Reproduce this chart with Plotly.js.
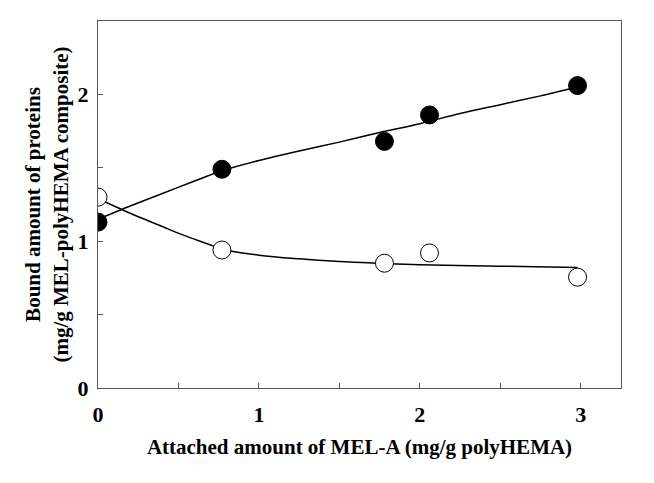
<!DOCTYPE html>
<html>
<head>
<meta charset="utf-8">
<script src="https://cdn.plot.ly/plotly-3.0.1.min.js"></script>
<style>html,body{margin:0;padding:0;background:#fff;}#chart{width:654px;height:483px;}</style>
</head>
<body>
<div id="chart"></div>
<script>
// Measured points
const filledX = [0, 0.77, 1.78, 2.06, 2.98];
const filledY = [1.13, 1.49, 1.68, 1.86, 2.06];
const openX = [0, 0.77, 1.78, 2.06, 2.98];
const openY = [1.30, 0.94, 0.85, 0.92, 0.755];
// Fitted curves
const filledFitX = [0, 0.2, 0.4, 0.6, 0.77, 1.0, 1.25, 1.5, 1.75, 2.0, 2.25, 2.5, 2.75, 2.98];
const filledFitY = [1.15, 1.24, 1.325, 1.41, 1.48, 1.55, 1.615, 1.675, 1.74, 1.80, 1.87, 1.93, 1.99, 2.05];
const openFitX = [0, 0.1, 0.2, 0.4, 0.51, 0.71, 0.77, 1.0, 1.25, 1.5, 1.75, 2.0, 2.5, 2.98];
const openFitY = [1.29, 1.24, 1.19, 1.10, 1.05, 0.97, 0.945, 0.905, 0.88, 0.862, 0.85, 0.84, 0.83, 0.82];
// Axis ticks
const xTickVals = [0, 0.5, 1, 1.5, 2, 2.5, 3];
const xTickText = ['0', '', '1', '', '2', '', '3'];
const yTickVals = [0, 0.5, 1, 1.5, 2];
const yTickText = ['0', '', '1', '', '2'];

const font = {family: '"Liberation Serif", "Times New Roman", serif', color: '#000'};
const boldFont = Object.assign({}, font, {size: 21, weight: 'bold'});

const traces = [
  {x: filledFitX, y: filledFitY, mode: 'lines', line: {color: '#000', width: 1.5, shape: 'spline', smoothing: 0.8}, hoverinfo: 'skip'},
  {x: openFitX, y: openFitY, mode: 'lines', line: {color: '#000', width: 1.5, shape: 'spline', smoothing: 1}, hoverinfo: 'skip'},
  {x: filledX, y: filledY, mode: 'markers', marker: {size: 18, color: '#000', line: {color: '#000', width: 1}}},
  {x: openX, y: openY, mode: 'markers', marker: {size: 18, color: '#fff', line: {color: '#000', width: 1}}}
];

const axisCommon = {
  showgrid: false, zeroline: false, showline: true, mirror: true,
  linecolor: '#555', linewidth: 1.2,
  ticks: 'inside', ticklen: 5, tickcolor: '#555', tickwidth: 1,
  tickfont: Object.assign({}, font, {size: 22, weight: 'bold'})
};

const layout = {
  width: 654, height: 483,
  margin: {l: 98, r: 33, t: 21, b: 95},
  paper_bgcolor: '#fff', plot_bgcolor: '#fff',
  showlegend: false,
  font: font,
  xaxis: Object.assign({}, axisCommon, {
    range: [0, 3.25], tickmode: 'array', tickvals: xTickVals, ticktext: xTickText,
    ticklabelstandoff: 6,
    title: {text: 'Attached amount of MEL-A (mg/g polyHEMA)', font: boldFont, standoff: 13}
  }),
  yaxis: Object.assign({}, axisCommon, {
    range: [0, 2.5], tickmode: 'array', tickvals: yTickVals, ticktext: yTickText,
    ticklabelstandoff: 4,
    title: {text: 'Bound amount of proteins<br>(mg/g MEL-polyHEMA composite)', font: boldFont, standoff: 3}
  })
};

Plotly.newPlot('chart', traces, layout, {displayModeBar: false, staticPlot: true});
</script>
</body>
</html>
